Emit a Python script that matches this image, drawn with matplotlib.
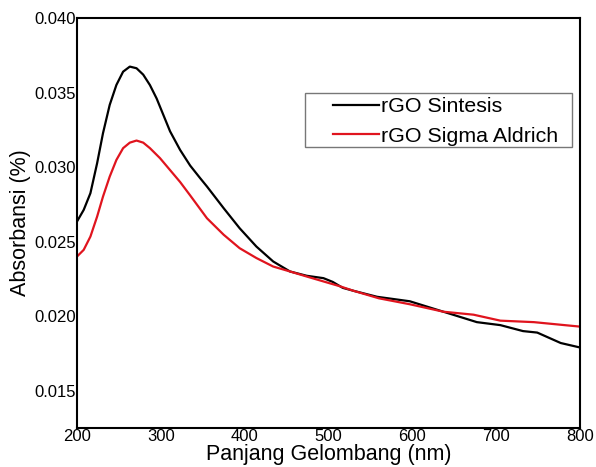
import matplotlib
matplotlib.use("Agg")
import matplotlib.pyplot as plt
from matplotlib.patches import Rectangle

# data
wl_sintesis = [200, 208, 216, 224, 231, 239, 247, 255, 263, 271, 279, 287, 295, 303, 311,
               323, 335, 347, 355, 375, 394, 414, 434, 454, 474, 494, 505, 517, 530, 558,
               597, 637, 677, 705, 732, 749, 777, 800]
abs_sintesis = [0.02635, 0.02713, 0.02825, 0.03026, 0.03227, 0.03417, 0.03551, 0.0364, 0.03674,
                0.03663, 0.0362, 0.0355, 0.0346, 0.0335, 0.0324, 0.03115, 0.0301, 0.02925,
                0.0287, 0.02724, 0.0259, 0.02467, 0.02367, 0.0230, 0.02271, 0.02255, 0.0223,
                0.0219, 0.0217, 0.0213, 0.0210, 0.0203, 0.0196, 0.0194, 0.0190, 0.0189,
                0.0182, 0.0179]

wl_sigma = [200, 208, 216, 224, 231, 239, 247, 255, 263, 271, 279, 287, 299, 311, 323,
            335, 355, 375, 394, 414, 434, 454, 474, 494, 514, 530, 560, 597, 637, 673,
            705, 745, 800]
abs_sigma = [0.0240, 0.02445, 0.02534, 0.02668, 0.02802, 0.02936, 0.03048, 0.03127, 0.03164,
             0.03178, 0.03164, 0.03127, 0.0306, 0.0298, 0.0290, 0.0281, 0.02657, 0.02546,
             0.02456, 0.0239, 0.02333, 0.0230, 0.02266, 0.02233, 0.0220, 0.0217, 0.0212,
             0.0208, 0.0203, 0.0201, 0.0197, 0.0196, 0.0193]

plt.rcParams['font.family'] = ['Liberation Sans', 'DejaVu Sans']

W, H = 596, 467
fig = plt.figure(figsize=(W/100, H/100), dpi=100)
ax = fig.add_axes([77/W, 1 - 428/H, (580-77)/W, (428-18)/H])

ax.plot(wl_sintesis, abs_sintesis, color='black', lw=1.6, label='rGO Sintesis')
ax.plot(wl_sigma, abs_sigma, color='#e0141e', lw=1.6, label='rGO Sigma Aldrich')

ax.set_xlim(200, 800)
ax.set_ylim(0.0125, 0.040)
ax.set_xticks([200, 300, 400, 500, 600, 700, 800])
ax.set_yticks([0.015, 0.020, 0.025, 0.030, 0.035, 0.040])
ax.set_yticklabels(['0.015', '0.020', '0.025', '0.030', '0.035', '0.040'])
ax.tick_params(length=0, labelsize=12, pad=1)
for s in ax.spines.values():
    s.set_linewidth(1.5)

ax.set_xlabel('Panjang Gelombang (nm)', fontsize=15.5, labelpad=0)
ax.set_ylabel('Absorbansi (%)', fontsize=15.5, labelpad=2)

# legend without its own frame, box drawn separately (wider left padding as in reference)
leg = ax.legend(loc='upper left', bbox_to_anchor=(333/W, 1 - 97/H),
                bbox_transform=fig.transFigure,
                fontsize=15.4, frameon=False, borderpad=0,
                handlelength=2.15, handletextpad=0.1, labelspacing=0.5, borderaxespad=0)
fig.patches.append(Rectangle((305/W, 1 - 147/H), (572-305)/W, (147-93)/H,
                             transform=fig.transFigure, fill=False,
                             edgecolor='#777777', lw=1.0, zorder=5))

fig.savefig('out.png', dpi=100)
